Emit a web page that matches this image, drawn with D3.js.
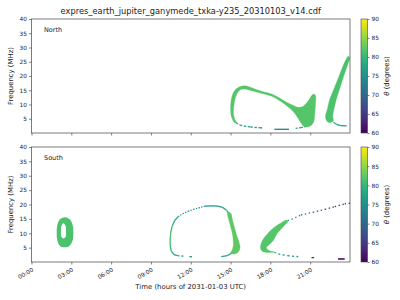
<!DOCTYPE html>
<html>
<head>
<meta charset="utf-8">
<script src="https://cdn.jsdelivr.net/npm/d3@7"></script>
<style>
  body { margin: 0; background: #fff; }
  svg text { font-family: "DejaVu Sans", sans-serif; fill: #222; }
</style>
</head>
<body>
<div id="chart"></div>
<script>
// ---- data (hours of day, MHz, theta in degrees) ----
var hourTicks = [0, 3, 6, 9, 12, 15, 18, 21];
var hourLabels = ["00:00", "03:00", "06:00", "09:00", "12:00", "15:00", "18:00", "21:00"];
var freqTicks = [5, 10, 15, 20, 25, 30, 35, 40];
var thetaTicks = [60, 65, 70, 75, 80, 85, 90];

// filled emission regions: outline vertices [hour, MHz]
var northLoopBand = [
  [15.3, 3.6], [15.08, 5.5], [15.0, 8], [15.03, 11], [15.15, 13.5], [15.4, 15.4], [15.8, 16.4],
  [16.2, 16.5], [16.6, 15.9], [17.1, 15.0], [17.6, 14.3], [18.1, 13.7], [18.5, 12.8], [18.9, 11.7],
  [19.3, 10.6], [19.7, 9.7], [20.1, 9.0], [20.5, 9.5], [20.85, 11.3], [21.1, 13.1], [21.25, 13.7],
  [21.4, 13.2], [21.4, 10], [21.35, 7], [21.3, 4.5], [21.15, 3.0], [20.85, 2.2], [20.55, 2.2],
  [20.3, 3.6], [20.0, 5.8], [19.7, 7.6], [19.3, 9.3], [18.9, 10.7], [18.5, 11.9], [18.1, 12.9],
  [17.6, 13.6], [17.0, 14.3], [16.5, 14.9], [16.05, 15.4], [15.7, 15.0], [15.45, 13.4],
  [15.28, 10.5], [15.22, 7.5], [15.3, 5.0], [15.45, 3.6]
];
var northArm = [
  [22.15, 5.7], [22.3, 8.5], [22.45, 11.6], [22.7, 14.5], [22.95, 17.4], [23.2, 20.3], [23.45, 23.3],
  [23.7, 25.8], [23.88, 26.9], [23.97, 26.4], [23.78, 23.3], [23.55, 20.3], [23.35, 17.4],
  [23.15, 14.5], [22.96, 11.6], [22.8, 8.5], [22.7, 5.7], [22.75, 4.3], [22.5, 3.6], [22.25, 4.2]
];
var southRingOuter = [
  [2.53, 15.6], [2.9, 14.8], [3.12, 12.5], [3.15, 10], [3.1, 7.5], [2.85, 5.6], [2.5, 5.1],
  [2.15, 5.6], [1.95, 7.5], [1.9, 10.3], [1.95, 13], [2.15, 14.9]
];
var southRingInner = [
  [2.4, 13.5], [2.57, 12.5], [2.6, 10.5], [2.57, 8.8], [2.4, 8.2], [2.25, 8.8], [2.22, 10.5], [2.25, 12.5]
];
var southArcFall = [
  [14.78, 17.2], [14.9, 14], [15.05, 11.5], [15.15, 9.4], [15.2, 7.5], [15.2, 5.5], [15.1, 4.0],
  [15.0, 3.0], [15.4, 2.9], [15.65, 3.9], [15.72, 5.2], [15.6, 7.5], [15.46, 9.4], [15.3, 12],
  [15.15, 14.5], [15.02, 17.0]
];
var southHook = [
  [17.3, 4.2], [17.25, 5.2], [17.42, 7.65], [17.72, 9.5], [18.05, 11.1], [18.45, 12.6], [18.8, 13.6],
  [19.25, 14.6], [19.3, 13.9], [19.2, 13.4], [18.75, 11.1], [18.5, 9.8], [18.25, 7.65], [17.95, 6.2],
  [17.7, 5.0], [17.9, 4.0], [18.3, 3.5], [17.8, 3.3], [17.45, 3.6]
];
var northTheta = [82, 81.5];
var southTheta = [81.5, 82.5, 82];

// thin sparse arcs: [hour, MHz, theta]
var northArcs = [
  [[15.4, 3.6, 79], [15.7, 2.8, 78], [16.0, 2.4, 77], [16.5, 2.1, 77], [17.2, 1.85, 76], [17.5, 1.7, 76]],
  [[18.3, 1.3, 73], [19.4, 1.3, 73]],
  [[19.9, 1.6, 77], [20.3, 1.9, 78], [20.65, 2.2, 79]],
  [[22.75, 3.8, 79], [23.0, 3.0, 77], [23.3, 2.6, 76], [23.75, 2.5, 75]]
];
var southArcs = [
  [[11.0, 2.2, 77], [10.75, 2.6, 79], [10.55, 3.6, 80], [10.45, 5.5, 81], [10.45, 8, 81], [10.5, 10.5, 80],
   [10.6, 12.5, 79], [10.8, 14.5, 78], [11.05, 15.8, 77]],
  [[11.05, 15.8, 76], [11.4, 16.8, 75], [11.8, 17.6, 75], [12.2, 18.3, 74], [12.6, 18.8, 74], [13.05, 19.4, 75]],
  [[13.05, 19.4, 75], [13.6, 19.5, 76], [14.05, 19.4, 77], [14.4, 19.0, 78], [14.7, 18.0, 79], [14.85, 17.0, 80]],
  [[15.05, 3.0, 79], [14.75, 2.2, 78], [14.3, 1.85, 77]],
  [[11.0, 2.2, 77], [11.55, 2.0, 76]],
  [[11.9, 1.85, 76], [12.1, 1.85, 76]],
  [[19.3, 14.4, 76], [19.6, 14.85, 75], [20.3, 16.35, 72], [21.2, 17.3, 69], [22.1, 18.3, 66],
   [22.85, 19.25, 65], [23.6, 20.2, 64], [24.0, 20.5, 64]],
  [[18.3, 3.4, 79], [18.6, 2.8, 78], [19.3, 2.2, 76], [20.1, 1.85, 73]],
  [[21.1, 1.55, 63], [21.3, 1.5, 63]],
  [[23.1, 1.05, 61], [23.6, 1.05, 61]]
];
var southArcDash = ["none", "1.2 1.4", "none", "none", "2 2", "none", "1.4 2.6", "2 2.4", "none", "none"];
var northArcDash = ["2.4 1.6", "none", "2 1.5", "none"];

// ---- layout ----
var width = 400, height = 300;
var svg = d3.select("#chart").append("svg").attr("width", width).attr("height", height);

var x = d3.scaleLinear().domain([0, 24]).range([31.5, 350]);
var color = d3.scaleSequential(d3.interpolateViridis).domain([60, 90]);

svg.append("text")
  .attr("x", 190.7).attr("y", 14)
  .attr("text-anchor", "middle")
  .style("font-size", "8.3px")
  .text("expres_earth_jupiter_ganymede_txka-y235_20310103_v14.cdf");

// colorbar gradient
var defs = svg.append("defs");
var grad = defs.append("linearGradient").attr("id", "viridis")
  .attr("x1", 0).attr("y1", 1).attr("x2", 0).attr("y2", 0);
d3.range(0, 1.0001, 0.05).forEach(function(t) {
  grad.append("stop").attr("offset", t).attr("stop-color", d3.interpolateViridis(t));
});

function panel(top, bottom, regions, thetas, rings, arcs, dashes, name, showLabels) {
  var y = d3.scaleLinear().domain([0, 40]).range([bottom, top]);
  var g = svg.append("g");

  var line = d3.line()
    .x(function(d) { return x(d[0]); })
    .y(function(d) { return y(d[1]); })
    .curve(d3.curveCatmullRomClosed.alpha(0.5));

  regions.forEach(function(r, i) {
    g.append("path").attr("d", line(r)).attr("fill", color(thetas[i]))
      .attr("stroke", color(thetas[i])).attr("stroke-width", 0.3);
  });

  if (rings) {
    g.append("path")
      .attr("d", line(rings[0]) + line(rings[1]))
      .attr("fill-rule", "evenodd")
      .attr("fill", color(rings[2]));
  }

  arcs.forEach(function(a, i) {
    for (var k = 0; k < a.length - 1; k++) {
      g.append("line")
        .attr("x1", x(a[k][0])).attr("y1", y(a[k][1]))
        .attr("x2", x(a[k + 1][0])).attr("y2", y(a[k + 1][1]))
        .attr("stroke", color(a[k][2]))
        .attr("stroke-width", a[k][2] < 62 ? 1.6 : 1.3)
        .attr("stroke-dasharray", dashes[i]);
    }
  });

  // axes
  var ya = g.append("g").attr("transform", "translate(31.5,0)")
    .call(d3.axisLeft(y).tickValues(freqTicks).tickSize(2.5).tickPadding(2));
  ya.selectAll("text").style("font-size", "5.8px");

  var xa = g.append("g").attr("transform", "translate(0," + bottom + ")")
    .call(d3.axisBottom(x).tickValues(hourTicks).tickSize(2.5)
      .tickFormat(function(d, i) { return showLabels ? hourLabels[i] : ""; }));
  xa.selectAll("text")
    .style("font-size", "5.8px")
    .attr("text-anchor", "end")
    .attr("y", 0).attr("dy", 0)
    .attr("transform", "translate(2,9) rotate(-30)");

  g.selectAll(".domain").remove();
  g.selectAll(".tick line").attr("stroke", "#333").attr("stroke-width", 0.6);

  g.append("rect")
    .attr("x", 31.5).attr("y", top).attr("width", 350 - 31.5).attr("height", bottom - top)
    .attr("fill", "none").attr("stroke", "#444").attr("stroke-width", 0.7);

  g.append("text").attr("x", 44).attr("y", top + 12.5)
    .style("font-size", "6.5px").text(name);

  g.append("text")
    .attr("transform", "translate(12.5," + ((top + bottom) / 2) + ") rotate(-90)")
    .attr("text-anchor", "middle")
    .style("font-size", "6.9px")
    .text("Frequency (MHz)");

  // colorbar
  var c = d3.scaleLinear().domain([60, 90]).range([bottom, top]);
  g.append("rect")
    .attr("x", 361).attr("y", top).attr("width", 6.5).attr("height", bottom - top)
    .attr("fill", "url(#viridis)").attr("stroke", "#444").attr("stroke-width", 0.6);
  var ca = g.append("g").attr("transform", "translate(367.5,0)")
    .call(d3.axisRight(c).tickValues(thetaTicks).tickSize(2).tickPadding(2));
  ca.select(".domain").remove();
  ca.selectAll("line").attr("stroke", "#333").attr("stroke-width", 0.6);
  ca.selectAll("text").style("font-size", "5.8px");

  var lab = g.append("text")
    .attr("transform", "translate(389," + ((top + bottom) / 2) + ") rotate(-90)")
    .attr("text-anchor", "middle")
    .style("font-size", "6.9px");
  lab.append("tspan").style("font-style", "italic").text("θ");
  lab.append("tspan").text(" (degrees)");
}

panel(19, 133, [northLoopBand, northArm], northTheta, null, northArcs, northArcDash, "North", false);
panel(147, 262, [southArcFall, southHook], [southTheta[1], southTheta[2]],
  [southRingOuter, southRingInner, southTheta[0]], southArcs, southArcDash, "South", true);

svg.append("text")
  .attr("x", 190.7).attr("y", 289)
  .attr("text-anchor", "middle")
  .style("font-size", "6.9px")
  .text("Time (hours of 2031-01-03 UTC)");
</script>
</body>
</html>
